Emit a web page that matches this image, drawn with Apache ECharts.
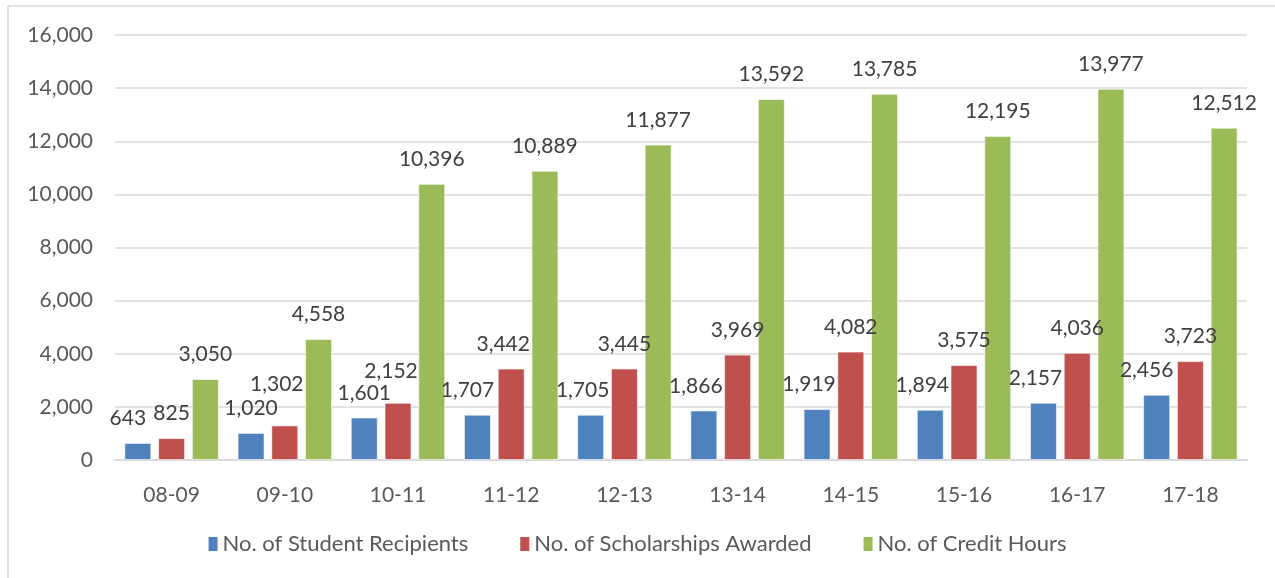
<!DOCTYPE html>
<html>
<head>
<meta charset="utf-8">
<script src="https://cdn.jsdelivr.net/npm/echarts@6/dist/echarts.min.js"></script>
<style>
  html, body { margin: 0; padding: 0; background: #fff; }
  #chart { width: 1275px; height: 578px; }
</style>
</head>
<body>
<div id="chart"></div>
<script>
// school years
const years = ['08-09', '09-10', '10-11', '11-12', '12-13', '13-14', '14-15', '15-16', '16-17', '17-18']
const recipients = [643, 1020, 1601, 1707, 1705, 1866, 1919, 1894, 2157, 2456]
const scholarships = [825, 1302, 2152, 3442, 3445, 3969, 4082, 3575, 4036, 3723]
const creditHours = [3050, 4558, 10396, 10889, 11877, 13592, 13785, 12195, 13977, 12512]

const font = 'Lato, "Liberation Sans", sans-serif'
const fmt = (v) => v.toLocaleString('en-US')

// label nudges like in the original (to dodge overlapping labels)
const labelNudge = {
  blue: { 0: [-10, 0], 3: [-10, 0], 4: [-8, 0], 5: [-8, 0], 6: [-8, 0], 7: [-8, 0], 8: [-8, 0], 9: [-10, 0] },
  red: { 1: [-8, -17], 2: [-7, -7], 3: [-8, 0] },
  green: {}
}

const chart = echarts.init(document.getElementById('chart'))

const mkSeries = (name, data, color, nudge) => ({
  name: name,
  type: 'bar',
  data: data.map((v, i) =>
    nudge[i] ? { value: v, label: { offset: nudge[i] } } : v
  ),
  barWidth: 27,
  barGap: '25%',
  itemStyle: {
    color: color,
    borderColor: 'rgba(255,255,255,0.6)',
    borderWidth: 1
  },
  label: {
    show: true,
    position: 'top',
    distance: 14,
    color: '#404040',
    fontFamily: font,
    fontSize: 21,
    formatter: (p) => fmt(p.value)
  }
})

const option = {
  backgroundColor: '#fff',
  animation: false,
  graphic: [
    { type: 'line', shape: { x1: 8, y1: 6, x2: 8, y2: 578 }, style: { stroke: '#D9D9D9', lineWidth: 1.5 } },
    { type: 'line', shape: { x1: 8, y1: 6, x2: 1275, y2: 6 }, style: { stroke: '#D9D9D9', lineWidth: 1.5 } }
  ],
  grid: { left: 115, right: 28, top: 35, bottom: 118 },
  legend: {
    bottom: 18,
    left: 'center',
    itemWidth: 9,
    itemHeight: 14,
    itemGap: 52,
    itemStyle: { borderWidth: 0 },
    icon: 'rect',
    textStyle: { color: '#595959', fontFamily: font, fontSize: 22 },
    data: ['No. of Student Recipients', 'No. of Scholarships Awarded', 'No. of Credit Hours']
  },
  xAxis: {
    type: 'category',
    data: years,
    axisTick: { show: false },
    axisLine: { lineStyle: { color: '#D9D9D9', width: 2 } },
    axisLabel: { color: '#595959', fontFamily: font, fontSize: 21, margin: 25 }
  },
  yAxis: {
    type: 'value',
    min: 0,
    max: 16000,
    interval: 2000,
    axisLine: { show: false },
    axisTick: { show: false },
    splitLine: { lineStyle: { color: '#D9D9D9', width: 1.5 } },
    axisLabel: { color: '#595959', fontFamily: font, fontSize: 21, margin: 22, formatter: fmt }
  },
  series: [
    mkSeries('No. of Student Recipients', recipients, '#4F81BD', labelNudge.blue),
    mkSeries('No. of Scholarships Awarded', scholarships, '#C0504D', labelNudge.red),
    mkSeries('No. of Credit Hours', creditHours, '#9BBB59', labelNudge.green)
  ]
}

chart.setOption(option)
</script>
</body>
</html>
